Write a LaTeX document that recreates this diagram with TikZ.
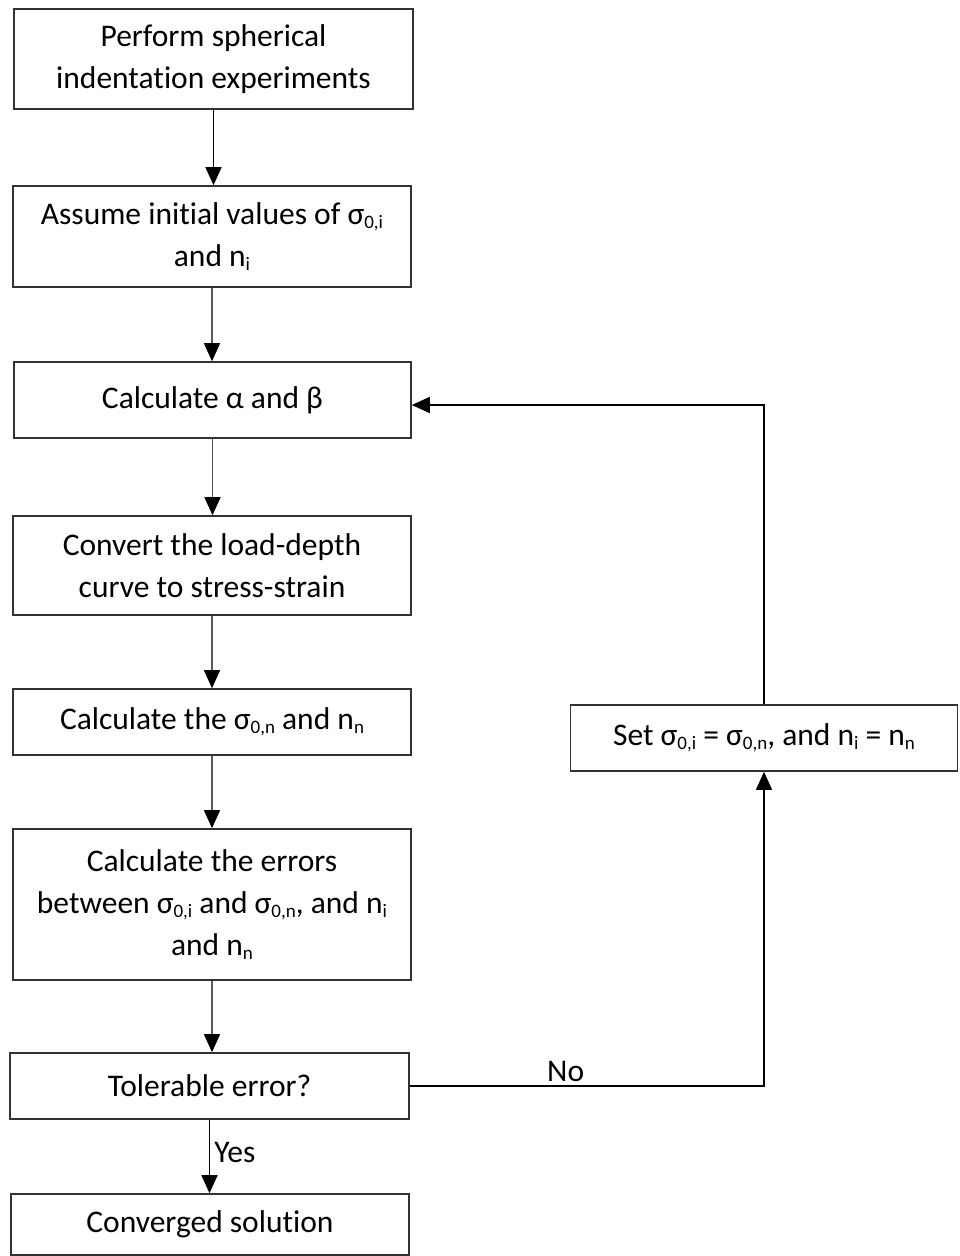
\documentclass[tikz,border=0pt]{standalone}
\usepackage{fontspec}
\setmainfont[Ligatures=NoCommon]{Carlito}
\usetikzlibrary{arrows.meta}
\newcommand{\lsub}[1]{\raisebox{-0.28ex}{\fontsize{19}{19}\selectfont #1}}
\tikzset{
  box/.style={draw=black!80, line width=1.6pt, rectangle, align=center, inner sep=0pt,
    font=\fontsize{31.5}{42}\selectfont},
  conn/.style={line width=1.5pt, draw=black!65, -{Triangle[width=16pt,length=18pt,color=black]}},
  lbl/.style={font=\fontsize{31.5}{42}\selectfont, inner sep=0pt}
}
\begin{document}
\begin{tikzpicture}[x=1pt,y=-1pt]
\useasboundingbox (0,0) rectangle (959,1256);
\node[box, minimum width=399pt, minimum height=100pt] (p1) at (213.5,59) {Perform spherical\\indentation experiments};
\node[box, minimum width=398pt, minimum height=101pt] (p2) at (212,236.5) {Assume initial values of σ\lsub{0,i}\\and n\lsub{i}};
\node[box, minimum width=397pt, minimum height=76pt] (p3) at (212.5,400) {Calculate α and β};
\node[box, minimum width=398pt, minimum height=99pt] (p4) at (212,565.5) {Convert the load-depth\\curve to stress-strain};
\node[box, minimum width=398pt, minimum height=66pt] (p5) at (212,722) {Calculate the σ\lsub{0,n} and n\lsub{n}};
\node[box, minimum width=398pt, minimum height=151pt] (p6) at (212,904.5) {Calculate the errors\\between σ\lsub{0,i} and σ\lsub{0,n}, and n\lsub{i}\\and n\lsub{n}};
\node[box, minimum width=399pt, minimum height=66pt] (p7) at (209.5,1086) {Tolerable error?};
\node[box, minimum width=398pt, minimum height=61pt] (p8) at (210,1224.5) {Converged solution};
\node[box, minimum width=387pt, minimum height=66pt] (s) at (764,738) {Set σ\lsub{0,i} = σ\lsub{0,n}, and n\lsub{i} = n\lsub{n}};

\draw[conn, draw=black] (p1.south) -- (p1.south |- p2.north);
\draw[conn] (p2.south) -- (p2.south |- p3.north);
\draw[conn] (p3.south) -- (p3.south |- p4.north);
\draw[conn] (p4.south) -- (p4.south |- p5.north);
\draw[conn] (p5.south) -- (p5.south |- p6.north);
\draw[conn] (p6.south) -- (p6.south |- p7.north);
\draw[conn, draw=black] (p7.south) -- (p7.south |- p8.north) node[lbl, pos=0.45, anchor=west, xshift=4pt] (yes) {Yes};
\draw[conn, draw=black] (p7.east) -| (s.south) node[lbl, pos=0.22, above=4pt] (no) {No};
\draw[conn, draw=black] ([yshift=-5pt]p3.east -| s.north) coordinate (c1) (s.north) -- (c1) -- ([yshift=-5pt]p3.east);
\end{tikzpicture}
\end{document}
